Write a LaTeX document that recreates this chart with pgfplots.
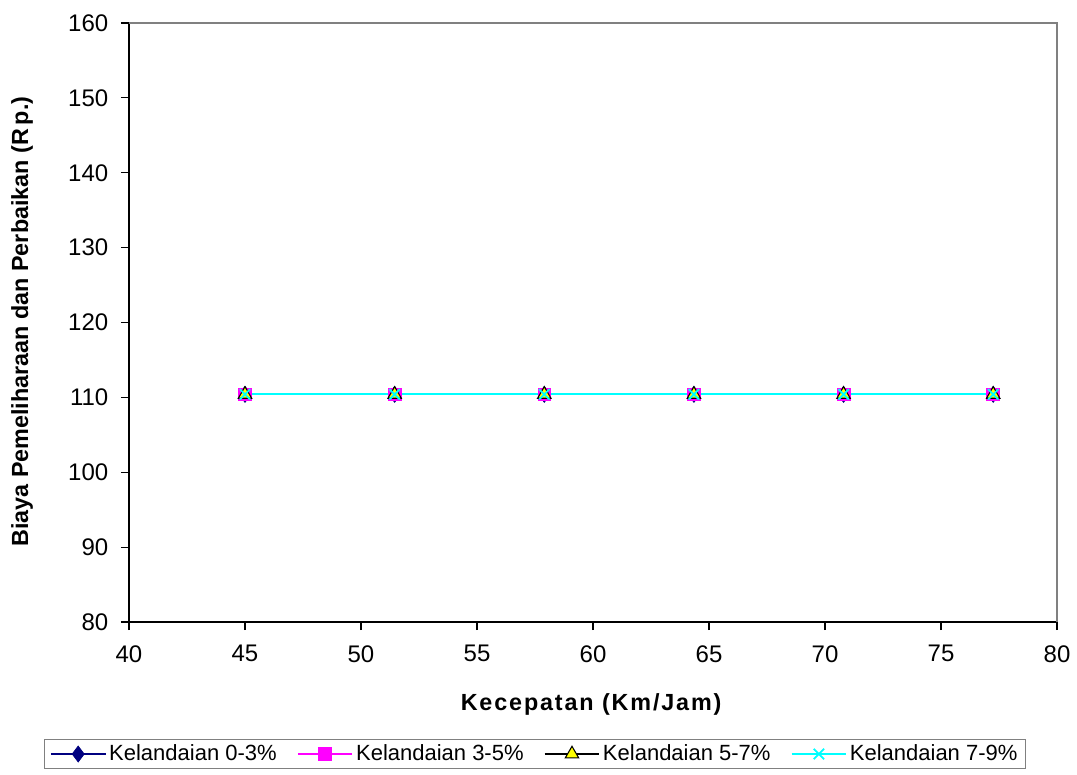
\documentclass[border=0pt]{standalone}
\usepackage{pgfplots}
\pgfplotsset{compat=1.18}
\usepackage{fontspec}
\setmainfont{Liberation Sans}
\definecolor{navyline}{RGB}{0,0,128}
\definecolor{magline}{RGB}{255,0,255}
\definecolor{cyanline}{RGB}{0,255,255}
\definecolor{yel}{RGB}{255,255,0}
\begin{document}
\begin{tikzpicture}
\useasboundingbox (0,0) rectangle (807.75pt,580.5pt);
\begin{axis}[
  at={(96.75pt,114pt)}, anchor=south west,
  scale only axis, width=696pt, height=449.25pt,
  xmin=40, xmax=80, ymin=80, ymax=160,
  xtick={40,45,...,80}, ytick={80,90,...,160},
  axis x line*=bottom, axis y line*=left,
  axis line style={black, line width=0.8pt},
  tick style={black, line width=0.8pt},
  tick align=outside, major tick length=6pt,
  /pgf/number format/assume math mode=true,
  ticklabel style={font=\fontsize{18}{20}\selectfont},
  xticklabel style={yshift=-8pt},
  yticklabel style={xshift=-6pt},
  xlabel={\addfontfeatures{LetterSpace=8}Kecepatan (Km/Jam)},
  ylabel={Biaya Pemeliharaan dan Perbaikan (R\,p.)},
  xlabel style={font=\fontsize{17.5}{20}\selectfont\bfseries, at={(axis description cs:0.498,-0.137)}, anchor=center},
  ylabel style={font=\fontsize{17.5}{20}\selectfont\bfseries, at={(axis description cs:-0.1153,0.5017)}, anchor=center, rotate=0},
  legend columns=4,
  legend style={at={(axis description cs:0.4375,-0.2204)}, anchor=center,
    draw=gray, line width=0.8pt, font=\fontsize{16.5}{19}\selectfont,
    inner xsep=4pt, inner ysep=2pt,
    /tikz/every even column/.append style={column sep=13pt}},
  legend image code/.code={\draw[mark repeat=2,mark phase=2,#1] plot coordinates {(0pt,0pt) (20.5pt,0pt) (41pt,0pt)};},
  clip=false,
]
\draw[gray, line width=0.8pt] (rel axis cs:0,1) -- (rel axis cs:1,1) -- (rel axis cs:1,0);
\addplot[navyline, line width=1.5pt, mark=diamond*, mark size=6pt, mark options={fill=navyline, draw=navyline, line width=0.5pt}]
  coordinates {(45,110.4) (51.45,110.4) (57.9,110.4) (64.35,110.4) (70.8,110.4) (77.25,110.4)};
\addlegendentry{Kelandaian 0-3\%}
\addplot[magline, line width=1.5pt, mark=square*, mark size=4.8pt, mark options={fill=magline, draw=magline, line width=0.5pt}]
  coordinates {(45,110.4) (51.45,110.4) (57.9,110.4) (64.35,110.4) (70.8,110.4) (77.25,110.4)};
\addlegendentry{Kelandaian 3-5\%}
\addplot[black, line width=1.5pt, mark=triangle*, mark size=5.8pt, mark options={fill=yel, draw=black, line width=0.8pt}]
  coordinates {(45,110.4) (51.45,110.4) (57.9,110.4) (64.35,110.4) (70.8,110.4) (77.25,110.4)};
\addlegendentry{Kelandaian 5-7\%}
\addplot[cyanline, line width=1.5pt, mark=x, mark size=5.5pt, mark options={draw=cyanline, line width=1.4pt}]
  coordinates {(45,110.4) (51.45,110.4) (57.9,110.4) (64.35,110.4) (70.8,110.4) (77.25,110.4)};
\addlegendentry{Kelandaian 7-9\%}
\end{axis}
\end{tikzpicture}
\end{document}
